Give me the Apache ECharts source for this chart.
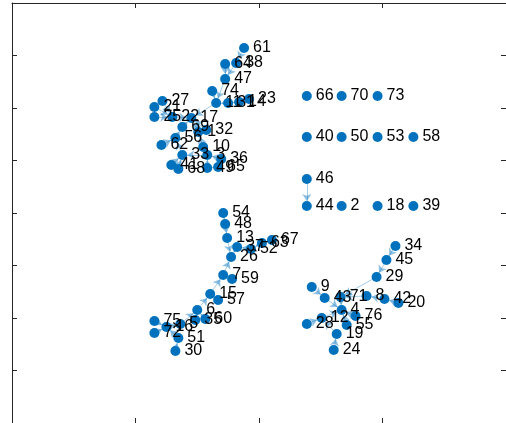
<!DOCTYPE html>
<html>
<head>
<meta charset="utf-8">
<script src="https://cdn.jsdelivr.net/npm/echarts@6/dist/echarts.min.js"></script>
<style>
  html, body { margin: 0; padding: 0; background: #fff; }
  #chart { width: 506px; height: 423px; }
</style>
</head>
<body>
<div id="chart"></div>
<script>
// Node ids and their layout coordinates
const nodeIds = [
  61, 64, 38, 47, 74, 11, 31, 14, 23, 27, 21, 25, 22, 17, 69, 1, 32, 56, 62, 10, 33, 3, 36, 41, 68, 49, 65,
  66, 70, 73, 40, 50, 53, 58, 46, 44, 2, 18, 39,
  54, 48, 13, 37, 52, 63, 67, 26, 7, 59, 15, 57, 6, 35, 60, 5, 75, 16, 72, 51, 30,
  34, 45, 29, 9, 43, 71, 8, 42, 20, 4, 76, 12, 28, 55, 19, 24
];
const nodeX = [
  1.879, 1.726, 1.815, 1.726, 1.621, 1.653, 1.750, 1.839, 1.919, 1.218, 1.153, 1.153, 1.298, 1.452, 1.379, 1.508, 1.573, 1.323, 1.210, 1.548, 1.379, 1.581, 1.694, 1.290, 1.347, 1.581, 1.669,
  2.387, 2.669, 2.960, 2.387, 2.669, 2.960, 3.250, 2.387, 2.387, 2.669, 2.960, 3.250,
  1.710, 1.726, 1.742, 1.823, 1.935, 2.024, 2.105, 1.774, 1.710, 1.782, 1.605, 1.669, 1.500, 1.484, 1.565, 1.363, 1.153, 1.250, 1.153, 1.347, 1.323,
  3.105, 3.032, 2.952, 2.427, 2.532, 2.661, 2.871, 3.016, 3.129, 2.669, 2.782, 2.508, 2.387, 2.710, 2.629, 2.605
];
const nodeY = [
  7.143, 6.838, 6.857, 6.552, 6.324, 6.095, 6.095, 6.114, 6.171, 6.133, 6.019, 5.829, 5.829, 5.810, 5.638, 5.543, 5.581, 5.429, 5.295, 5.257, 5.105, 5.105, 5.029, 4.914, 4.838, 4.857, 4.876,
  6.229, 6.229, 6.229, 5.448, 5.448, 5.448, 5.448, 4.648, 4.133, 4.133, 4.133, 4.133,
  4.000, 3.790, 3.524, 3.352, 3.314, 3.429, 3.486, 3.162, 2.819, 2.743, 2.457, 2.343, 2.152, 1.962, 1.981, 1.886, 1.943, 1.829, 1.714, 1.619, 1.371,
  3.371, 3.105, 2.781, 2.590, 2.381, 2.400, 2.419, 2.362, 2.286, 2.152, 2.038, 2.000, 1.886, 1.867, 1.695, 1.390
];
// Directed edges: [source, target]
const edgeList = [
  [61, 38], [38, 47], [64, 47], [47, 11], [74, 11], [31, 11], [14, 31], [23, 14],
  [11, 17], [22, 17], [27, 22], [21, 22], [25, 22], [69, 17], [1, 17], [32, 17],
  [56, 69], [62, 56], [33, 56], [10, 1], [3, 10], [41, 33], [68, 33], [3, 33],
  [36, 3], [49, 3], [65, 49],
  [46, 44],
  [54, 48], [48, 13], [13, 26], [37, 26], [52, 37], [63, 52], [67, 63],
  [7, 26], [59, 7], [15, 7], [57, 15], [6, 15], [35, 6], [60, 6], [5, 6],
  [16, 5], [75, 16], [72, 16], [51, 16], [30, 51],
  [34, 45], [45, 29], [29, 71], [8, 71], [42, 8], [20, 42], [71, 4],
  [43, 4], [9, 43], [12, 4], [28, 12], [76, 4], [55, 4], [19, 12], [24, 19]
];
const xRange = [0, 4];
const yRange = [0, 8];

const blue = '#0072BD';
const axisColor = '#262626';

const nodes = nodeIds.map((id, i) => ({ name: String(id), value: [nodeX[i], nodeY[i]] }));
const links = edgeList.map(e => ({ source: String(e[0]), target: String(e[1]) }));

function axis(extra, range) {
  return Object.assign({
    type: 'value',
    min: range[0],
    max: range[1],
    interval: 1,
    axisLine: { show: true, onZero: false, lineStyle: { color: axisColor, width: 1 } },
    axisTick: { show: true, inside: true, length: 5, lineStyle: { color: axisColor, width: 1 } },
    axisLabel: { show: false },
    splitLine: { show: false }
  }, extra);
}

const chart = echarts.init(document.getElementById('chart'), null, { renderer: 'canvas' });
chart.setOption({
  animation: false,
  backgroundColor: '#ffffff',
  grid: { left: 12, top: 3, width: 496, height: 420, containLabel: false },
  xAxis: [axis({ position: 'bottom' }, xRange), axis({ position: 'top' }, xRange)],
  yAxis: [axis({ position: 'left' }, yRange), axis({ position: 'right' }, yRange)],
  series: [{
    type: 'graph',
    coordinateSystem: 'cartesian2d',
    layout: 'none',
    symbol: 'circle',
    symbolSize: 10,
    edgeSymbol: ['none', 'arrow'],
    edgeSymbolSize: 7,
    itemStyle: { color: blue },
    lineStyle: { color: blue, width: 0.8, opacity: 0.45, curveness: 0 },
    label: {
      show: true,
      position: 'right',
      distance: 4,
      color: '#000',
      fontFamily: 'Liberation Sans, Arial, sans-serif',
      fontSize: 16
    },
    emphasis: { disabled: true },
    data: nodes,
    links: links
  }]
});
</script>
</body>
</html>
